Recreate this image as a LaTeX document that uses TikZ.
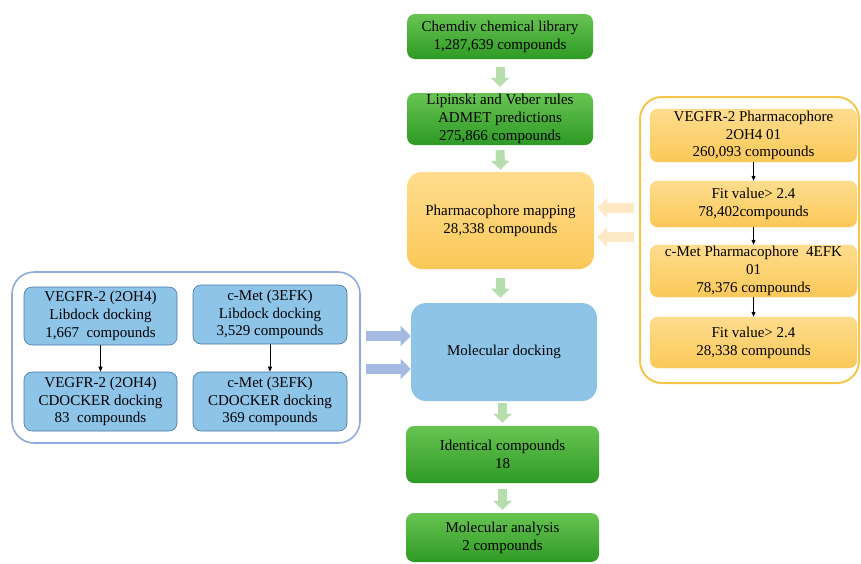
\documentclass[tikz,border=0pt]{standalone}
\usepackage{fontspec}
\setmainfont{Liberation Serif}
\usepackage{tikz}
\usetikzlibrary{arrows.meta, positioning}
\definecolor{libtop}{RGB}{104,196,82}
\definecolor{libbot}{RGB}{46,154,36}
\definecolor{pharmtop}{RGB}{255,221,142}
\definecolor{pharmbot}{RGB}{250,200,88}
\definecolor{pharmedge}{RGB}{246,198,74}
\definecolor{dockfill}{RGB}{141,196,232}
\definecolor{dockedge}{RGB}{72,118,160}
\definecolor{panelblue}{RGB}{142,170,219}
\definecolor{flowgreen}{RGB}{182,221,172}
\definecolor{fitorange}{RGB}{253,233,198}
\definecolor{dockarrow}{RGB}{165,186,226}

\begin{document}
\begin{tikzpicture}[
  x=1pt, y=-1pt,
  libbox/.style={rectangle, rounded corners=8pt, draw=none,
                 top color=libtop, bottom color=libbot,
                 minimum width=186pt, inner sep=0pt, align=center},
  pharmbox/.style={rectangle, rounded corners=8pt, draw=pharmedge!80, line width=0.4pt,
                   top color=pharmtop, bottom color=pharmbot,
                   minimum width=207pt, inner sep=0pt, align=center},
  dockbox/.style={rectangle, rounded corners=8pt, draw=dockedge, line width=0.6pt,
                  fill=dockfill, minimum width=153pt, inner sep=0pt, align=center},
  panel/.style={rectangle, rounded corners=22pt, fill=none, inner sep=0pt},
  flowarr/.style={-{Triangle[width=18pt, length=9pt]}, line width=9pt, flowgreen},
  fitarr/.style={-{Triangle[width=20pt, length=10pt]}, line width=10pt, fitorange},
  dockarr/.style={-{Triangle[width=20pt, length=10pt]}, line width=10pt, dockarrow},
  steparr/.style={-{Triangle[width=4pt, length=5pt]}, line width=0.8pt, black},
  every node/.style={font=\fontsize{15pt}{17.8pt}\selectfont}
]
  \useasboundingbox (0,0) rectangle (861,563);
  % main column
  \node[libbox, minimum height=45pt] (chemdiv) at (500,36.5) {Chemdiv chemical library\\1,287,639 compounds};
  \node[libbox, minimum height=52pt] (lipinski) at (500,119) {Lipinski and Veber rules\\ADMET predictions\\275,866 compounds};
  \node[pharmbox, draw=none, rounded corners=15pt, minimum width=187pt, minimum height=97pt] (pharmmap) at (500.5,220.5) {Pharmacophore mapping\\28,338 compounds};
  \node[dockbox, draw=none, rounded corners=15pt, minimum width=186pt, minimum height=98pt] (moldock) at (504,352) {Molecular docking};
  \node[libbox, minimum width=193pt, minimum height=57pt] (identical) at (502.5,454.5) {Identical compounds\\18};
  \node[libbox, minimum width=193pt, minimum height=49pt] (analysis) at (502.5,537.5) {Molecular analysis\\2 compounds};
  % right panel
  \node[panel, draw=pharmedge, line width=2pt, minimum width=219pt, minimum height=286pt] (panelR) at (749.5,240) {};
  \node[pharmbox, minimum height=53pt] (vegfrph) at (753.5,135.5) {VEGFR-2 Pharmacophore\\2OH4 01\\260,093 compounds};
  \node[pharmbox, minimum height=46pt] (fitone) at (753.5,204) {Fit value> 2.4\\78,402compounds};
  \node[pharmbox, minimum height=52pt] (cmetph) at (753.5,271) {c-Met Pharmacophore\ \ 4EFK\\01\\78,376 compounds};
  \node[pharmbox, minimum height=51pt] (fittwo) at (753.5,342.5) {Fit value> 2.4\\28,338 compounds};
  % left panel
  \node[panel, draw=panelblue, line width=1.6pt, minimum width=348pt, minimum height=171pt] (panelL) at (186,357.5) {};
  \node[dockbox, minimum height=58pt] (vlib) at (100.5,316) {VEGFR-2 (2OH4)\\Libdock docking\\1,667\ \ compounds};
  \node[dockbox, minimum width=154pt, minimum height=59pt] (mlib) at (270,314.5) {c-Met (3EFK)\\Libdock docking\\3,529 compounds};
  \node[dockbox, minimum height=59pt] (vcdock) at (100.5,401.5) {VEGFR-2 (2OH4)\\CDOCKER docking\\83\ \ compounds};
  \node[dockbox, minimum width=154pt, minimum height=59pt] (mcdock) at (270,401.5) {c-Met (3EFK)\\CDOCKER docking\\369 compounds};
  % connectors
  \draw[flowarr, shorten <=8pt, shorten >=6pt] (chemdiv.south) -- (lipinski.north);
  \draw[flowarr, shorten <=5pt, shorten >=2pt] (lipinski.south) -- (pharmmap.north);
  \draw[flowarr, shorten <=9pt, shorten >=5pt] (pharmmap.south) -- (pharmmap.south |- moldock.north);
  \draw[flowarr, shorten <=2pt, shorten >=3pt] (moldock.south -| identical) -- (identical.north);
  \draw[flowarr, shorten <=6pt, shorten >=3pt] (identical.south) -- (analysis.north);
  \draw[fitarr, shorten <=5pt, shorten >=3pt] (panelR.west |- 0,208) -- (pharmmap.east |- 0,208);
  \draw[fitarr, shorten <=5pt, shorten >=3pt] (panelR.west |- 0,237) -- (pharmmap.east |- 0,237);
  \draw[dockarr, shorten <=5pt] (panelL.east |- 0,336) -- (moldock.west |- 0,336);
  \draw[dockarr, shorten <=5pt] (panelL.east |- 0,369) -- (moldock.west |- 0,369);
  \draw[steparr] (vegfrph.south) -- (fitone.north);
  \draw[steparr] (fitone.south) -- (cmetph.north);
  \draw[steparr] (cmetph.south) -- (fittwo.north);
  \draw[steparr] (vlib.south) -- (vcdock.north);
  \draw[steparr] (mlib.south) -- (mcdock.north);
\end{tikzpicture}
\end{document}
